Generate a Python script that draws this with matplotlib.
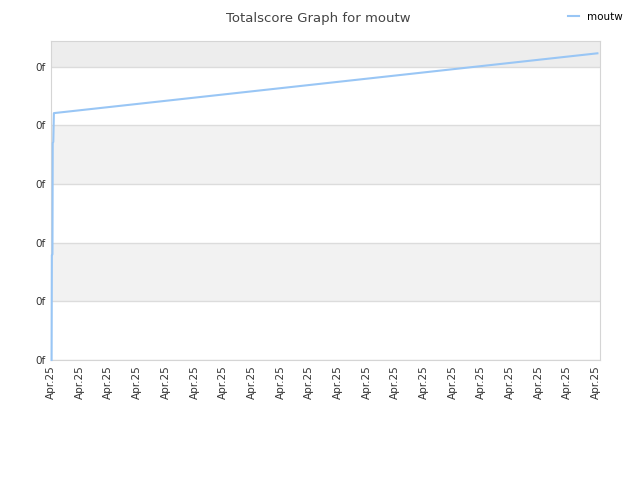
import matplotlib
matplotlib.use('Agg')
import matplotlib.pyplot as plt

# score series, x in tick-index units
days = [0.02, 0.03, 0.05, 0.06, 0.08, 0.10, 19.05]
score = [0.00, 1.79, 1.80, 3.70, 3.72, 4.21, 5.23]

tick_pos = list(range(20))
tick_labels = ['Apr.25'] * 20
ytick_pos = [0, 1, 2, 3, 4, 5]
ytick_labels = ['0f'] * 6

fig = plt.figure(figsize=(6.4, 4.8), dpi=100)
ax = fig.add_axes([0.0797, 0.25, 0.8578, 0.6646])

ax.set_xlim(0, 19.14)
ax.set_ylim(0, 5.44)

# alternating background bands
ax.axhspan(1, 2, color='#f2f2f2', zorder=0, lw=0)
ax.axhspan(3, 4, color='#f2f2f2', zorder=0, lw=0)
ax.axhspan(5, 5.44, color='#ededed', zorder=0, lw=0)
for yv in ytick_pos:
    ax.axhline(yv, color='#dcdcdc', lw=1, zorder=1)

ax.plot(days, score, color='#99c6f5', lw=1.5, label='moutw', zorder=5,
        clip_on=False)

ax.set_xticks(tick_pos)
ax.set_xticklabels(tick_labels, rotation=90, fontsize=7.5, color='#333333')
ax.set_yticks(ytick_pos)
ax.set_yticklabels(ytick_labels, fontsize=7.5, color='#333333')
ax.tick_params(length=0, pad=4)

for s in ax.spines.values():
    s.set_color('#d5d5d5')
    s.set_zorder(2)

fig.text(0.497, 0.975, 'Totalscore Graph for moutw', ha='center', va='top',
         fontsize=9.5, color='#444444')
fig.legend(loc='upper right', bbox_to_anchor=(0.988, 0.995), frameon=False,
           fontsize=7.5, handlelength=1.0, handletextpad=0.8)

fig.savefig('out.png', dpi=100)
